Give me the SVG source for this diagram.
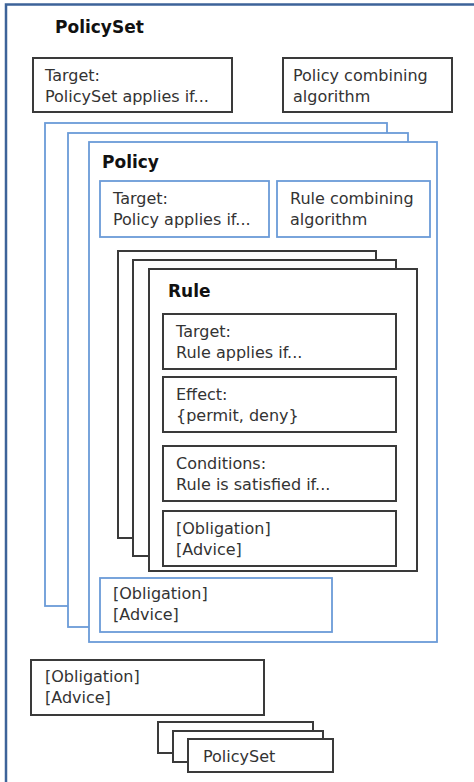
<svg xmlns="http://www.w3.org/2000/svg" width="474" height="782" viewBox="0 0 474 782">
<style>
  .frame { fill: none; stroke: #3d6399; stroke-width: 2.5; }
  .blk { fill: #ffffff; stroke: #3a3a3a; stroke-width: 2; }
  .blu { fill: #ffffff; stroke: #6b9bd8; stroke-width: 1.8; }
  .t { font-family: "DejaVu Sans", "Liberation Sans", sans-serif; font-size: 16px; fill: #333333; }
  .h { font-family: "DejaVu Sans", "Liberation Sans", sans-serif; font-size: 17px; font-weight: bold; fill: #111111; }
</style>
<rect x="0" y="0" width="474" height="782" fill="#ffffff"/>

<g id="policyset-outer">
  <rect class="frame" x="6" y="4.5" width="500" height="800"/>
  <text class="h" x="55" y="33">PolicySet</text>
</g>

<g id="policyset-target">
  <rect class="blk" x="33" y="58" width="199" height="54"/>
  <text class="t" x="45" y="81">Target:</text>
  <text class="t" x="45" y="102">PolicySet applies if...</text>
</g>

<g id="policy-combining">
  <rect class="blk" x="283" y="58" width="169" height="54"/>
  <text class="t" x="293" y="81">Policy combining</text>
  <text class="t" x="293" y="102">algorithm</text>
</g>

<g id="policy-stack">
  <rect class="blu" x="45" y="123" width="342" height="483"/>
  <rect class="blu" x="68" y="133" width="340" height="494"/>
</g>

<g id="policy">
  <rect class="blu" x="89" y="142" width="348" height="500"/>
  <text class="h" x="102" y="168">Policy</text>
</g>

<g id="policy-target">
  <rect class="blu" x="100" y="181" width="169" height="56"/>
  <text class="t" x="113" y="204">Target:</text>
  <text class="t" x="113" y="225">Policy applies if...</text>
</g>

<g id="rule-combining">
  <rect class="blu" x="277" y="181" width="153" height="56"/>
  <text class="t" x="290" y="204">Rule combining</text>
  <text class="t" x="290" y="225">algorithm</text>
</g>

<g id="rule-stack">
  <rect class="blk" x="118" y="251" width="258" height="287"/>
  <rect class="blk" x="133" y="260" width="263" height="296"/>
</g>

<g id="rule">
  <rect class="blk" x="149" y="269" width="268" height="302"/>
  <text class="h" x="168" y="297">Rule</text>
</g>

<g id="rule-target">
  <rect class="blk" x="163" y="314" width="233" height="55"/>
  <text class="t" x="176" y="337">Target:</text>
  <text class="t" x="176" y="358">Rule applies if...</text>
</g>

<g id="rule-effect">
  <rect class="blk" x="163" y="377" width="233" height="55"/>
  <text class="t" x="176" y="400">Effect:</text>
  <text class="t" x="176" y="421">{permit, deny}</text>
</g>

<g id="rule-conditions">
  <rect class="blk" x="163" y="446" width="233" height="55"/>
  <text class="t" x="176" y="469">Conditions:</text>
  <text class="t" x="176" y="490">Rule is satisfied if...</text>
</g>

<g id="rule-obligation">
  <rect class="blk" x="163" y="511" width="233" height="55"/>
  <text class="t" x="176" y="534">[Obligation]</text>
  <text class="t" x="176" y="555">[Advice]</text>
</g>

<g id="policy-obligation">
  <rect class="blu" x="100" y="578" width="232" height="54"/>
  <text class="t" x="113" y="599">[Obligation]</text>
  <text class="t" x="113" y="620">[Advice]</text>
</g>

<g id="policyset-obligation">
  <rect class="blk" x="31" y="660" width="233" height="55"/>
  <text class="t" x="45" y="682">[Obligation]</text>
  <text class="t" x="45" y="703">[Advice]</text>
</g>

<g id="policyset-stack">
  <rect class="blk" x="158" y="722" width="155" height="31"/>
  <rect class="blk" x="173" y="731" width="150" height="31"/>
</g>

<g id="policyset-child">
  <rect class="blk" x="188" y="739" width="145" height="33"/>
  <text class="t" x="203" y="762">PolicySet</text>
</g>
</svg>
